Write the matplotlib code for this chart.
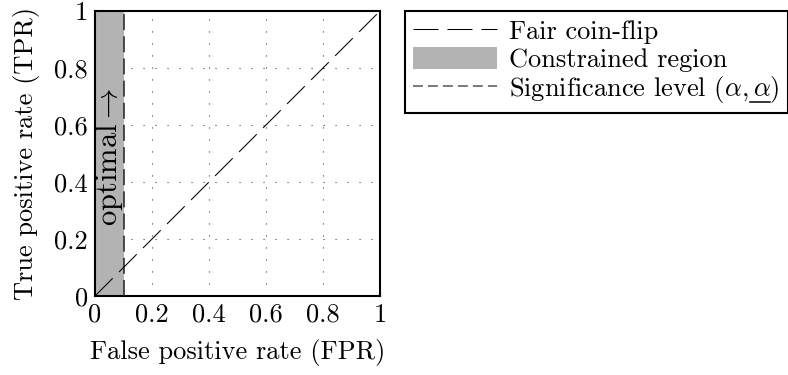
import matplotlib
matplotlib.use("Agg")
import matplotlib.pyplot as plt
from matplotlib.patches import Patch
from matplotlib.lines import Line2D

plt.rcParams["font.family"] = "serif"
plt.rcParams["font.serif"] = ["cmr10"]
plt.rcParams["mathtext.fontset"] = "cm"
plt.rcParams["axes.formatter.use_mathtext"] = True

# data
coin_fpr = [0.0, 1.0]
coin_tpr = [0.0, 1.0]
alpha_level = 0.1
tick_values = [0, 0.2, 0.4, 0.6, 0.8, 1]
tick_labels = ["0", "0.2", "0.4", "0.6", "0.8", "1"]

FS = 19
COIN_DASH = (0, (24, 8.6))
SIG_DASH = (0, (10.5, 4))


def underline_part(fig, text, prefix, upto):
    """Draw an underline below the part of `text` between prefix and upto."""
    renderer = fig.canvas.get_renderer()
    prop = text.get_fontproperties()
    w1, _, _ = renderer.get_text_width_height_descent(prefix, prop, ismath=True)
    w2, _, _ = renderer.get_text_width_height_descent(upto, prop, ismath=True)
    bb = text.get_window_extent(renderer)
    inv = fig.transFigure.inverted()
    (x1, y1), (x2, _) = inv.transform([(bb.x0 + w1 + 1, bb.y0 + 3),
                                       (bb.x0 + w2 - 1, bb.y0 + 3)])
    fig.add_artist(Line2D([x1, x2], [y1, y1], transform=fig.transFigure,
                          color="black", lw=1.1, zorder=20))


def main():
    fig = plt.figure(figsize=(7.88, 3.75), dpi=100)
    ax = fig.add_axes([95 / 788, 79 / 375, 285 / 788, 285 / 375])

    # constrained region and significance level
    ax.axvspan(0, alpha_level, color="#b3b3b3", lw=0, zorder=1)
    ax.axvline(alpha_level, color="#222222", lw=1.1, ls=SIG_DASH, zorder=3)

    # fair coin-flip diagonal
    ax.plot(coin_fpr, coin_tpr, color="black", lw=0.75, ls=COIN_DASH, zorder=4)

    ax.text(alpha_level / 2, 0.486, r"optimal$\rightarrow$", rotation=90,
            ha="center", va="center", fontsize=22, zorder=5)

    ax.set_xlim(0, 1)
    ax.set_ylim(0, 1)
    ax.set_xticks(tick_values)
    ax.set_xticklabels(tick_labels)
    ax.set_yticks(tick_values)
    ax.set_yticklabels(tick_labels)
    ax.tick_params(length=0, pad=5, labelsize=FS)
    ax.grid(True, color="#444444", ls=(0, (1, 9.8)), lw=0.8)
    ax.set_axisbelow(True)
    for s in ax.spines.values():
        s.set_linewidth(1.5)

    ax.set_xlabel("False positive rate (FPR)", fontsize=FS, labelpad=9)
    ax.set_ylabel("True positive rate (TPR)", fontsize=FS, labelpad=10)

    handles = [
        Line2D([], [], color="black", lw=0.75, ls=COIN_DASH),
        Patch(facecolor="#b3b3b3", edgecolor="none"),
        Line2D([], [], color="#555555", lw=1.1, ls=(0, (6.5, 3.3))),
    ]
    labels = ["Fair coin-flip", "Constrained region",
              r"Significance level $(\alpha,\alpha)$"]
    leg = fig.legend(handles, labels, loc="upper left",
                     bbox_to_anchor=(405 / 788, 1 - 11 / 375),
                     fontsize=FS, fancybox=False, framealpha=1,
                     edgecolor="black", handlelength=3.2, handleheight=0.9,
                     handletextpad=0.45, labelspacing=0.1, borderpad=0.3,
                     borderaxespad=0)
    leg.get_frame().set_linewidth(1.5)

    fig.canvas.draw()
    underline_part(fig, leg.get_texts()[2],
                   r"Significance level $(\alpha,$",
                   r"Significance level $(\alpha,\alpha$")

    fig.savefig("out.png", dpi=100)


if __name__ == "__main__":
    main()
